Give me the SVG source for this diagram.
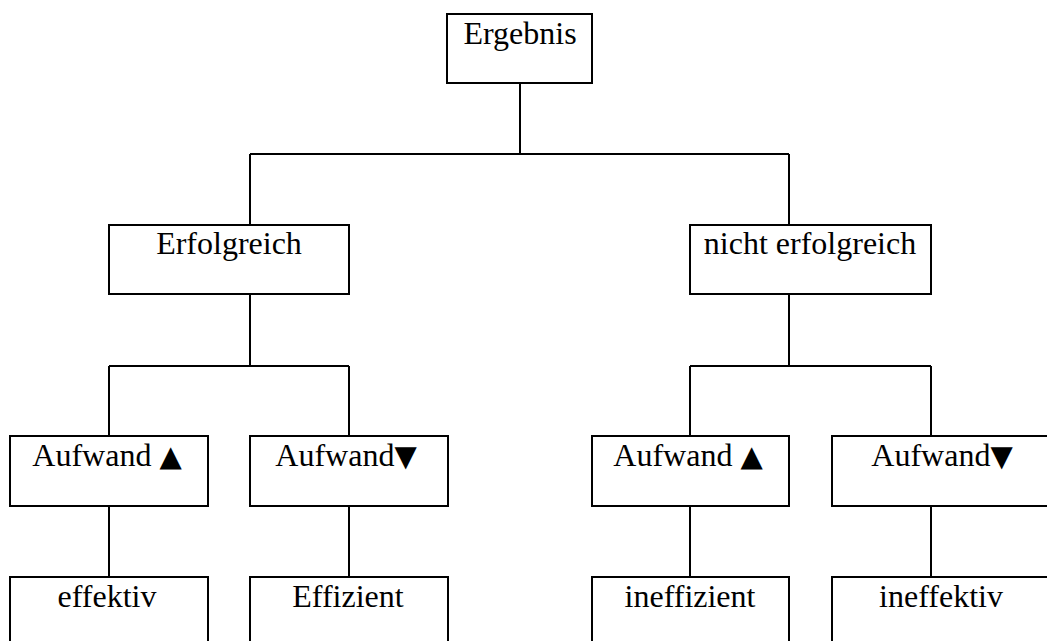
<svg xmlns="http://www.w3.org/2000/svg" width="1047" height="641" viewBox="0 0 1047 641">
<style>
.box{fill:#fff;stroke:#000;stroke-width:2}
.lbl{font-family:"Liberation Serif","Times New Roman",serif;font-size:32px;fill:#000;text-anchor:middle}
.sym{font-family:"DejaVu Sans",sans-serif;font-size:29px}
.con{stroke:#000;stroke-width:2;fill:none}
</style>
<rect width="1047" height="641" fill="#fff"/>
<g id="connectors">
<path class="con" d="M520,83V154M250,154H789M250,154V225M789,154V225"/>
<path class="con" d="M250,294V366M109,366H349M109,366V436M349,366V436"/>
<path class="con" d="M789,294V366M690,366H931M690,366V436M931,366V436"/>
<path class="con" d="M109,506V577M349,506V577M690,506V577M931,506V577"/>
</g>
<g id="n-ergebnis"><rect class="box" x="447" y="14" width="145" height="69"/><text class="lbl" x="520" y="44">Ergebnis</text></g>
<g id="n-erfolgreich"><rect class="box" x="109" y="225" width="240" height="69"/><text class="lbl" x="229" y="254">Erfolgreich</text></g>
<g id="n-nicht"><rect class="box" x="690" y="225" width="241" height="69"/><text class="lbl" x="810" y="254">nicht erfolgreich</text></g>
<g id="n-aufwand1"><rect class="box" x="10" y="436" width="198" height="70"/><text class="lbl" x="107" y="466">Aufwand <tspan class="sym">▲</tspan></text></g>
<g id="n-aufwand2"><rect class="box" x="250" y="436" width="198" height="70"/><text class="lbl" x="346" y="466">Aufwand<tspan class="sym">▼</tspan></text></g>
<g id="n-aufwand3"><rect class="box" x="592" y="436" width="197" height="70"/><text class="lbl" x="688" y="466">Aufwand <tspan class="sym">▲</tspan></text></g>
<g id="n-aufwand4"><rect class="box" x="832" y="436" width="230" height="70"/><text class="lbl" x="942" y="466">Aufwand<tspan class="sym">▼</tspan></text></g>
<g id="n-effektiv"><rect class="box" x="10" y="577" width="198" height="80"/><text class="lbl" x="107" y="607">effektiv</text></g>
<g id="n-effizient"><rect class="box" x="250" y="577" width="198" height="80"/><text class="lbl" x="348" y="607">Effizient</text></g>
<g id="n-ineffizient"><rect class="box" x="592" y="577" width="197" height="80"/><text class="lbl" x="690" y="607">ineffizient</text></g>
<g id="n-ineffektiv"><rect class="box" x="832" y="577" width="230" height="80"/><text class="lbl" x="941" y="607">ineffektiv</text></g>
</svg>
